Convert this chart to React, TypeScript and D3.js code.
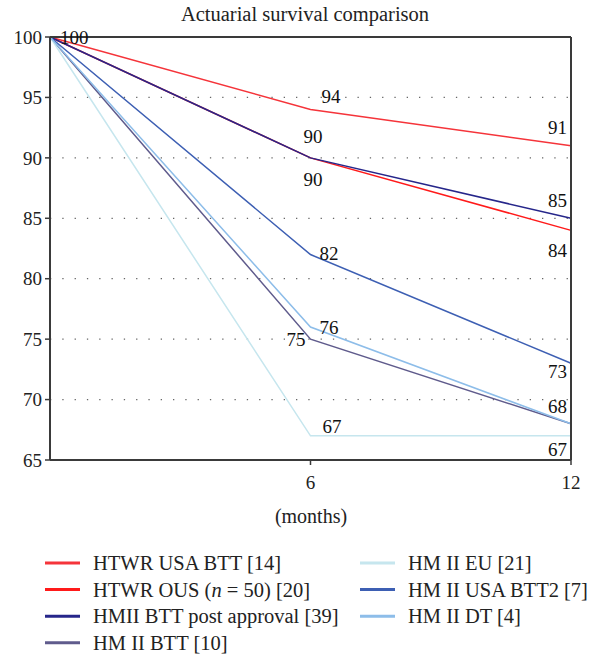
import React from 'react';
import * as d3 from 'd3';

// --- data ---
const months = [0, 6, 12];
const seriesNames = [
    'HTWR USA BTT [14]',
    'HTWR OUS (n = 50) [20]',
    'HMII BTT post approval [39]',
    'HM II BTT [10]',
    'HM II EU [21]',
    'HM II USA BTT2 [7]',
    'HM II DT [4]',
];
const htwrUsaBtt = [100, 94, 91];
const htwrOus = [100, 90, 84];
const hmiiPostApproval = [100, 90, 85];
const hmIIBtt = [100, 75, 68];
const hmIIEu = [100, 67, 67];
const hmIIUsaBtt2 = [100, 82, 73];
const hmIIDt = [100, 76, 68];
const seriesValues = [htwrUsaBtt, htwrOus, hmiiPostApproval, hmIIBtt, hmIIEu, hmIIUsaBtt2, hmIIDt];
const seriesColors = ['#f5343a', '#ff1a1a', '#26268a', '#5f5b8c', '#c6e6ee', '#3d5fb3', '#8dbde9'];
const yTicks = [65, 70, 75, 80, 85, 90, 95, 100];
const xTicks = [6, 12];

// value labels: series, point index, offsets, anchor
const valueLabels = [
    { s: 0, i: 0, dx: 10, dy: 0, anchor: 'start' },
    { s: 0, i: 1, dx: 11, dy: -13, anchor: 'start' },
    { s: 2, i: 1, dx: -7, dy: -22, anchor: 'start' },
    { s: 1, i: 1, dx: -7, dy: 21, anchor: 'start' },
    { s: 5, i: 1, dx: 9, dy: -1, anchor: 'start' },
    { s: 6, i: 1, dx: 9, dy: 0, anchor: 'start' },
    { s: 3, i: 1, dx: -5, dy: 0, anchor: 'end' },
    { s: 4, i: 1, dx: 12, dy: -9, anchor: 'start' },
    { s: 0, i: 2, dx: -4, dy: -18, anchor: 'end' },
    { s: 2, i: 2, dx: -4, dy: -18, anchor: 'end' },
    { s: 1, i: 2, dx: -4, dy: 20, anchor: 'end' },
    { s: 5, i: 2, dx: -4, dy: 8, anchor: 'end' },
    { s: 6, i: 2, dx: -4, dy: -17, anchor: 'end' },
    { s: 4, i: 2, dx: -4, dy: 14, anchor: 'end' },
];

const legendOrder = [[0, 1, 2, 3], [4, 5, 6]];

const W = 592, H = 655;
const left = 50, right = 571, top = 37, bottom = 460;
const font = '"Liberation Serif", "DejaVu Serif", serif';
const axisColor = '#3a3a3a';

export default function App() {
    const x = d3.scaleLinear().domain([0, 12]).range([left, right]);
    const y = d3.scaleLinear().domain([65, 100]).range([bottom, top]);
    const line = d3.line<number>().x((_, i) => x(months[i])).y(d => y(d));

    const renderLegendLabel = (name: string) => {
        if (name.includes('(n =')) {
            const [a, b] = name.split('n =');
            return (<>{a}<tspan fontStyle="italic">n</tspan>{' =' + b}</>);
        }
        return name;
    };

    return (
        <svg width={W} height={H} style={{ position: 'absolute', left: 0, top: 0, background: '#fff' }}
            fontFamily={font}>
            <text x={305} y={21} textAnchor="middle" fontSize={20.5} fill="#222">Actuarial survival comparison</text>

            {/* grid */}
            {yTicks.filter(t => t > 65 && t < 100).map(t => (
                <line key={'g' + t} x1={left} x2={right} y1={y(t)} y2={y(t)}
                    stroke="#666" strokeWidth={1.2} strokeDasharray="1.3,11" />
            ))}

            {/* series */}
            {seriesValues.map((vals, s) => (
                <path key={'s' + s} d={line(vals) || ''} fill="none" stroke={seriesColors[s]} strokeWidth={1.5} />
            ))}

            {/* frame */}
            <line x1={left} x2={right} y1={top} y2={top} stroke={axisColor} strokeWidth={2} />
            <line x1={right} x2={right} y1={top} y2={bottom} stroke={axisColor} strokeWidth={2} />
            <line x1={left} x2={left} y1={top} y2={bottom} stroke={axisColor} strokeWidth={2} />
            <line x1={left} x2={right} y1={bottom} y2={bottom} stroke={axisColor} strokeWidth={2} />

            {/* y axis */}
            {yTicks.map(t => (
                <g key={'y' + t}>
                    <line x1={left - 5} x2={left} y1={y(t)} y2={y(t)} stroke={axisColor} strokeWidth={1.5} />
                    <text x={left - 8} y={y(t)} dy="0.35em" textAnchor="end" fontSize={19} fill="#222">{t}</text>
                </g>
            ))}

            {/* x axis */}
            {xTicks.map(t => (
                <g key={'x' + t}>
                    <line x1={x(t)} x2={x(t)} y1={bottom} y2={bottom + 5} stroke={axisColor} strokeWidth={1.5} />
                    <text x={x(t)} y={bottom + 29} textAnchor="middle" fontSize={19} fill="#222">{t}</text>
                </g>
            ))}
            <text x={311} y={523} textAnchor="middle" fontSize={20} fill="#222">(months)</text>

            {/* value labels */}
            {valueLabels.map((l, k) => (
                <text key={'v' + k} x={x(months[l.i]) + l.dx} y={y(seriesValues[l.s][l.i]) + l.dy}
                    dy="0.35em" textAnchor={l.anchor} fontSize={19} fill="#111">
                    {seriesValues[l.s][l.i]}
                </text>
            ))}

            {/* legend */}
            {legendOrder.map((col, c) => col.map((s, r) => {
                const lx = c === 0 ? 45 : 360;
                const ly = 563 + r * 26.6;
                return (
                    <g key={'l' + s}>
                        <line x1={lx} x2={lx + 35} y1={ly} y2={ly} stroke={seriesColors[s]} strokeWidth={3} />
                        <text x={lx + 48} y={ly} dy="0.35em" fontSize={20.5} fill="#222">{renderLegendLabel(seriesNames[s])}</text>
                    </g>
                );
            }))}
        </svg>
    );
}
